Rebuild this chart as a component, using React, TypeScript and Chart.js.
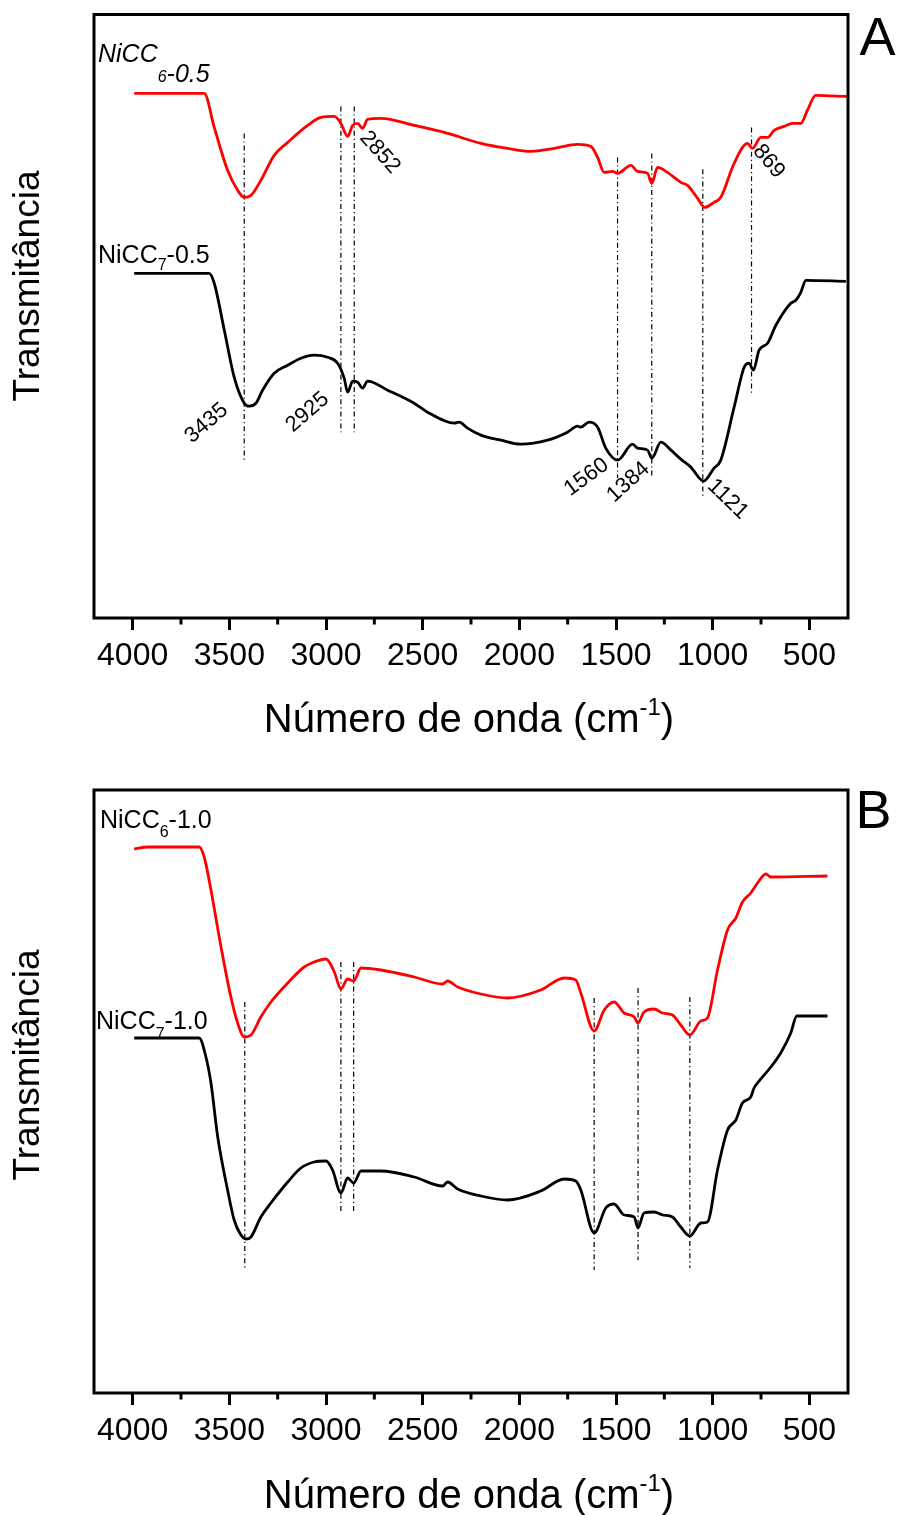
import React, { useEffect, useRef } from 'react';
import { Chart, registerables } from 'chart.js';

Chart.register(...registerables);

const FONT = '"Liberation Sans", Arial, Helvetica, sans-serif';

// ---------- Panel A data (wavenumber cm-1, transmittance a.u.) ----------
const nicc6_05_wn = [3992, 3630, 3578, 3509, 3457, 3423, 3388, 3337, 3268, 3198, 3095, 3026, 2957, 2923, 2888, 2862, 2836, 2811, 2785, 2716, 2544, 2371, 2199, 2061, 1940, 1820, 1699, 1630, 1595, 1561, 1518, 1492, 1423, 1389, 1337, 1315, 1285, 1234, 1165, 1130, 1078, 1041, 993, 958, 889, 820, 794, 751, 716, 682, 631, 587, 544, 510, 467, 303];
const nicc6_05_t = [525, 525, 491, 448, 428, 421, 423, 438, 463, 476, 493, 501, 502, 495, 482, 493, 495, 490, 499, 500, 493, 485, 475, 470, 467, 470, 474, 472, 461, 446, 447, 445, 453, 447, 445, 435, 451, 446, 436, 433, 420, 411, 416, 421, 455, 475, 470, 481, 481, 488, 492, 495, 495, 508, 523, 522];

const nicc7_05_wn = [3992, 3604, 3578, 3526, 3475, 3423, 3397, 3362, 3328, 3268, 3198, 3130, 3061, 2992, 2940, 2906, 2888, 2862, 2836, 2811, 2785, 2681, 2544, 2475, 2337, 2311, 2268, 2199, 2096, 1992, 1854, 1751, 1699, 1682, 1639, 1595, 1553, 1492, 1414, 1389, 1337, 1315, 1268, 1216, 1165, 1113, 1047, 993, 958, 889, 837, 812, 789, 760, 716, 673, 596, 570, 544, 518, 311];
const nicc7_05_t = [345, 345, 335, 288, 241, 215, 212, 215, 228, 245, 253, 260, 263, 261, 255, 240, 226, 237, 236, 230, 237, 228, 215, 206, 195, 196, 190, 183, 178, 174, 178, 186, 192, 191, 196, 191, 170, 158, 174, 170, 168, 160, 176, 168, 159, 151, 137, 150, 158, 211, 251, 255, 248, 268, 275, 293, 315, 318, 326, 338, 337];

// vertical marker lines, panel A
const marksA_wn = [3423, 2923, 2854, 1492, 1315, 1051, 799];
const marksA_top = [485, 512, 512, 461, 465, 449, 491];
const marksA_bottom = [158, 186, 186, 140, 140, 121, 225];

// peak labels, panel A
const peakA_text = ['3435', '2925', '2852', '1560', '1384', '1121', '869'];
const peakA_wn = [3618, 3096, 2721, 1653, 1436, 922, 710];
const peakA_t = [195, 206, 466, 141, 136, 119, 457];
const peakA_rot = [-41, -41, 48, -36, -42, 44, 50];

// ---------- Panel B data ----------
const nicc6_10_wn = [3992, 3922, 3656, 3630, 3595, 3543, 3492, 3457, 3423, 3388, 3337, 3285, 3198, 3113, 3061, 3000, 2957, 2923, 2888, 2857, 2819, 2716, 2544, 2397, 2371, 2319, 2199, 2061, 1889, 1768, 1708, 1682, 1613, 1561, 1510, 1458, 1406, 1386, 1355, 1303, 1259, 1208, 1165, 1118, 1061, 1027, 975, 923, 880, 846, 803, 768, 725, 699, 406];
const nicc6_10_t = [544, 546, 546, 536, 503, 446, 396, 370, 356, 358, 376, 391, 410, 426, 431, 434, 421, 404, 414, 412, 425, 423, 416, 409, 412, 406, 399, 395, 403, 415, 413, 400, 362, 383, 391, 380, 376, 370, 381, 384, 380, 378, 368, 358, 372, 375, 423, 463, 475, 491, 500, 510, 519, 516, 517];

const nicc7_10_wn = [3992, 3656, 3621, 3595, 3560, 3509, 3475, 3440, 3414, 3388, 3337, 3285, 3198, 3130, 3061, 3000, 2966, 2923, 2888, 2857, 2819, 2716, 2544, 2397, 2371, 2319, 2199, 2061, 1889, 1768, 1708, 1682, 1613, 1553, 1510, 1458, 1406, 1386, 1355, 1303, 1259, 1208, 1165, 1118, 1061, 1027, 975, 923, 880, 846, 803, 786, 768, 699, 648, 596, 565, 406];
const nicc7_10_t = [355, 355, 336, 310, 256, 203, 173, 158, 154, 156, 176, 190, 211, 225, 231, 232, 223, 200, 215, 210, 222, 222, 216, 207, 211, 204, 197, 193, 202, 214, 212, 203, 160, 185, 189, 178, 176, 165, 180, 181, 178, 176, 166, 157, 170, 171, 223, 263, 273, 290, 296, 305, 310, 326, 340, 360, 377, 377];

const marksB_wn = [3420, 2923, 2857, 1613, 1386, 1118];
const marksB_top = [391, 431, 431, 395, 405, 396];
const marksB_bottom = [125, 181, 181, 123, 133, 125];

// axis ticks
const MAJOR_TICKS = [4000, 3500, 3000, 2500, 2000, 1500, 1000, 500];
const MINOR_TICKS = [3750, 3250, 2750, 2250, 1750, 1250, 750];
const X_MIN = 300;
const X_MAX = 4200;

const RED = '#ff0000';
const BLACK = '#000000';

type Part = { text: string; dy: number; size: number };
type SeriesLabel = { x: number; y: number; italic: boolean; parts: Part[] };

interface PanelSpec {
  height: number;
  padTop: number;
  axisH: number;
  yMax: number;
  series: { wn: number[]; t: number[]; color: string }[];
  marks: { wn: number[]; top: number[]; bottom: number[] };
  peaks: { text: string[]; wn: number[]; t: number[]; rot: number[] };
  seriesLabels: SeriesLabel[];
  letter: { text: string; x: number; y: number };
  yTitleY: number;
  xTitleY: number;
}

const PANEL_A: PanelSpec = {
  height: 757,
  padTop: 14.5,
  axisH: 139,
  yMax: 604,
  series: [
    { wn: nicc6_05_wn, t: nicc6_05_t, color: RED },
    { wn: nicc7_05_wn, t: nicc7_05_t, color: BLACK },
  ],
  marks: { wn: marksA_wn, top: marksA_top, bottom: marksA_bottom },
  peaks: { text: peakA_text, wn: peakA_wn, t: peakA_t, rot: peakA_rot },
  seriesLabels: [
    { x: 98, y: 62, italic: true, parts: [{ text: 'NiCC', dy: 0, size: 25 }, { text: '6', dy: 20, size: 16 }, { text: '-0.5', dy: 20, size: 25 }] },
    { x: 98, y: 263, italic: false, parts: [{ text: 'NiCC', dy: 0, size: 25 }, { text: '7', dy: 7, size: 16 }, { text: '-0.5', dy: 0, size: 25 }] },
  ],
  letter: { text: 'A', x: 877.5, y: 55 },
  yTitleY: 286,
  xTitleY: 732,
};

const PANEL_B: PanelSpec = {
  height: 758,
  padTop: 33,
  axisH: 122,
  yMax: 603,
  series: [
    { wn: nicc6_10_wn, t: nicc6_10_t, color: RED },
    { wn: nicc7_10_wn, t: nicc7_10_t, color: BLACK },
  ],
  marks: { wn: marksB_wn, top: marksB_top, bottom: marksB_bottom },
  peaks: { text: [], wn: [], t: [], rot: [] },
  seriesLabels: [
    { x: 100, y: 71, italic: false, parts: [{ text: 'NiCC', dy: 0, size: 25 }, { text: '6', dy: 9, size: 16 }, { text: '-1.0', dy: 0, size: 25 }] },
    { x: 96, y: 272, italic: false, parts: [{ text: 'NiCC', dy: 0, size: 25 }, { text: '7', dy: 10, size: 16 }, { text: '-1.0', dy: 0, size: 25 }] },
  ],
  letter: { text: 'B', x: 873.5, y: 71 },
  yTitleY: 308,
  xTitleY: 750.5,
};

function makeDecor(p: PanelSpec) {
  return {
    id: 'decor',
    afterDraw(chart: any) {
      const { ctx, chartArea: a, scales } = chart;
      const xs = scales.x;
      const ys = scales.y;
      ctx.save();
      // frame
      ctx.strokeStyle = '#000';
      ctx.lineWidth = 3;
      ctx.strokeRect(a.left, a.top, a.right - a.left, a.bottom - a.top);
      // minor ticks
      ctx.lineWidth = 3;
      for (const v of MINOR_TICKS) {
        const px = xs.getPixelForValue(v);
        ctx.beginPath();
        ctx.moveTo(px, a.bottom);
        ctx.lineTo(px, a.bottom + 6.5);
        ctx.stroke();
      }
      ctx.fillStyle = '#000';
      // peak labels
      ctx.font = `22px ${FONT}`;
      ctx.textAlign = 'center';
      ctx.textBaseline = 'middle';
      p.peaks.text.forEach((txt, i) => {
        const px = xs.getPixelForValue(p.peaks.wn[i]);
        const py = ys.getPixelForValue(p.peaks.t[i]);
        ctx.save();
        ctx.translate(px, py);
        ctx.rotate((p.peaks.rot[i] * Math.PI) / 180);
        ctx.fillText(txt, 0, 0);
        ctx.restore();
      });
      // series labels
      ctx.textAlign = 'left';
      ctx.textBaseline = 'alphabetic';
      for (const sl of p.seriesLabels) {
        let x = sl.x;
        for (const part of sl.parts) {
          ctx.font = `${sl.italic ? 'italic ' : ''}${part.size}px ${FONT}`;
          ctx.fillText(part.text, x, sl.y + part.dy);
          x += ctx.measureText(part.text).width;
        }
      }
      // panel letter
      ctx.font = `54px ${FONT}`;
      ctx.textAlign = 'center';
      ctx.fillText(p.letter.text, p.letter.x, p.letter.y);
      // y title
      ctx.save();
      ctx.font = `37px ${FONT}`;
      ctx.textBaseline = 'middle';
      ctx.translate(29, p.yTitleY);
      ctx.rotate(-Math.PI / 2);
      ctx.fillText('Transmitância', 0, 0);
      ctx.restore();
      // x title with superscript
      const main = 'Número de onda (cm';
      const sup = '-1';
      const end = ')';
      ctx.textAlign = 'left';
      ctx.textBaseline = 'alphabetic';
      ctx.font = `40px ${FONT}`;
      const w1 = ctx.measureText(main).width;
      const w3 = ctx.measureText(end).width;
      ctx.font = `24px ${FONT}`;
      const w2 = ctx.measureText(sup).width;
      const cx = (a.left + a.right) / 2 - 2;
      let sx = cx - (w1 + w2 + w3) / 2;
      ctx.font = `40px ${FONT}`;
      ctx.fillText(main, sx, p.xTitleY);
      sx += w1;
      ctx.font = `24px ${FONT}`;
      ctx.fillText(sup, sx, p.xTitleY - 17);
      sx += w2;
      ctx.font = `40px ${FONT}`;
      ctx.fillText(end, sx, p.xTitleY);
      ctx.restore();
    },
  };
}

function buildConfig(p: PanelSpec): any {
  const datasets: any[] = [];
  for (const s of p.series) {
    datasets.push({
      data: s.wn.map((w, i) => ({ x: w, y: s.t[i] })),
      borderColor: s.color,
      borderWidth: 2.8,
      pointRadius: 0,
      cubicInterpolationMode: 'monotone',
      fill: false,
    });
  }
  p.marks.wn.forEach((w, i) => {
    datasets.push({
      data: [
        { x: w, y: p.marks.top[i] },
        { x: w, y: p.marks.bottom[i] },
      ],
      borderColor: '#000',
      borderWidth: 1.2,
      borderDash: [5, 3, 1.2, 3],
      pointRadius: 0,
      fill: false,
    });
  });
  return {
    type: 'line',
    data: { datasets },
    options: {
      responsive: false,
      animation: false,
      devicePixelRatio: 1,
      layout: { padding: { left: 94, right: 51, top: p.padTop, bottom: 0 } },
      plugins: { legend: { display: false }, tooltip: { enabled: false }, title: { display: false } },
      elements: { point: { radius: 0 } },
      scales: {
        x: {
          type: 'linear',
          reverse: true,
          min: X_MIN,
          max: X_MAX,
          afterBuildTicks: (s: any) => {
            s.ticks = MAJOR_TICKS.map((v) => ({ value: v }));
          },
          afterFit: (s: any) => {
            s.height = p.axisH;
          },
          border: { display: false },
          grid: {
            drawOnChartArea: false,
            drawTicks: true,
            tickLength: 12,
            tickWidth: 3,
            tickColor: '#000',
          },
          ticks: {
            autoSkip: false,
            maxRotation: 0,
            minRotation: 0,
            padding: 7,
            color: '#000',
            font: { family: FONT, size: 32 },
            callback: (v: any) => String(v),
          },
          title: { display: false },
        },
        y: { display: false, min: 0, max: p.yMax },
      },
    },
    plugins: [makeDecor(p)],
  };
}

function Panel({ spec, top }: { spec: PanelSpec; top: number }) {
  const ref = useRef<HTMLCanvasElement | null>(null);
  useEffect(() => {
    if (!ref.current) return;
    const chart = new Chart(ref.current, buildConfig(spec));
    return () => chart.destroy();
  }, [spec]);
  return (
    <canvas
      ref={ref}
      width={899}
      height={spec.height}
      style={{ position: 'absolute', left: 0, top, width: 899, height: spec.height, display: 'block' }}
    />
  );
}

export default function App() {
  return (
    <div
      style={{
        position: 'absolute',
        left: 0,
        top: 0,
        width: 899,
        height: 1515,
        overflow: 'hidden',
        background: '#fff',
      }}
    >
      <Panel spec={PANEL_A} top={0} />
      <Panel spec={PANEL_B} top={757} />
    </div>
  );
}
